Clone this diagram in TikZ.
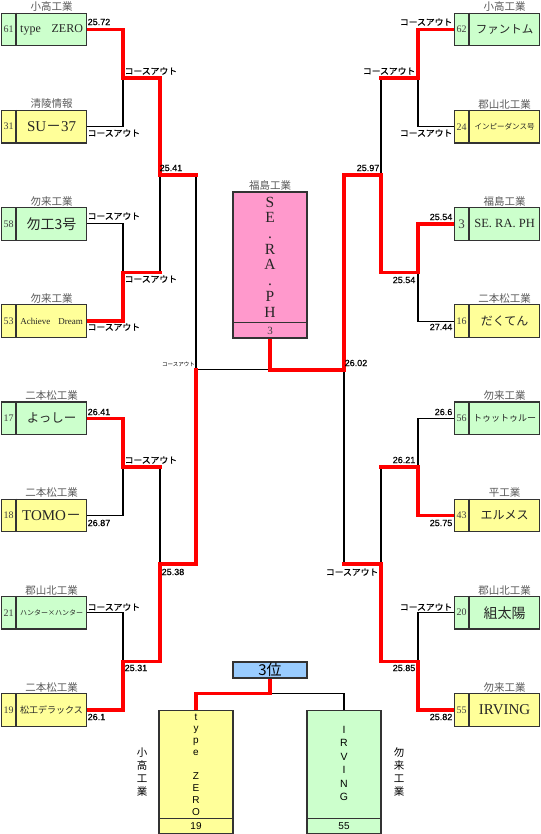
\documentclass[tikz,border=0pt]{standalone}
\usepackage{fontspec}
\setmainfont{Liberation Serif}
\newfontfamily\jp{Noto Sans CJK JP}
\newfontfamily\jpb{Noto Sans CJK JP}[FakeBold=0.8]
\newfontfamily\lsans{Liberation Sans}
\newfontfamily\lsansb{Liberation Sans}[FakeBold=0.6]
\definecolor{gbox}{HTML}{CCFFCC}
\definecolor{ybox}{HTML}{FFFF99}
\definecolor{pbox}{HTML}{FF99CC}
\definecolor{bbox}{HTML}{99CCFF}
\definecolor{redc}{HTML}{FF0000}
\definecolor{boxc}{HTML}{333333}
\pgfdeclarelayer{bg}
\pgfsetlayers{bg,main}
\tikzset{
  box/.style={draw=boxc, line width=1.2pt, minimum width=85pt, minimum height=32.5pt, inner sep=0pt},
  bigbox/.style={draw=boxc, line width=1.2pt, minimum width=74pt, inner sep=0pt},
  boxline/.style={draw=boxc, line width=1.2pt},
  conn/.style={draw=black, line width=1.1pt},
  win/.style={draw=redc, line width=3.6pt, line cap=rect},
  numtxt/.style={inner sep=0pt, text=black!75, font=\fontsize{10}{11}\selectfont},
  school/.style={inner sep=0.5pt, text=black!65, font=\fontsize{10.5}{11}\selectfont\jp},
  lab/.style={inner sep=0.5pt, font=\fontsize{9}{10}\selectfont\lsansb},
  jlab/.style={inner sep=0.5pt, font=\fontsize{8.8}{10}\selectfont\jpb},
}
\newcommand\tbox[7]{%
  \node[box, fill=#4, anchor=west] (#1) at (#2,#3) {};
  \draw[boxline] ([xshift=15pt]#1.north west) -- ([xshift=15pt]#1.south west);
  \node[numtxt] (#1n) at ([xshift=7.5pt]#1.west) {#5};
  \node[inner sep=0pt, text=black!85] (#1t) at ([xshift=7.5pt]#1.center) {#6};
  \node[school, anchor=south] (#1s) at ([xshift=7.5pt,yshift=0.3pt]#1.north) {#7};
}
\newcommand\fs[1]{\fontsize{#1}{#1}\selectfont}
\begin{document}
\begin{tikzpicture}[x=1pt,y=-1pt]
\useasboundingbox (0,0) rectangle (540,834);
% ---------- left teams ----------
\tbox{L1}{1}{29.5}{gbox}{61}{\fs{12}type\hspace{0.9em}ZERO}{小高工業}
\tbox{L2}{1}{126.7}{ybox}{31}{\fs{15}SU{\jp －}37}{清陵情報}
\tbox{L3}{1}{223.9}{gbox}{58}{\fs{14}\jp 勿工3号}{勿来工業}
\tbox{L4}{1}{321.1}{ybox}{53}{\fs{9}Achieve\hspace{0.9em}Dream}{勿来工業}
\tbox{L5}{1}{418.3}{gbox}{17}{\fs{12.5}\jp よっしー}{二本松工業}
\tbox{L6}{1}{515.5}{ybox}{18}{\fs{15}TOMO{\jp －}}{二本松工業}
\tbox{L7}{1}{612.7}{gbox}{21}{\fs{7}\jp ハンター×ハンター}{郡山北工業}
\tbox{L8}{1}{709.9}{ybox}{19}{\fs{9}\jp 松工デラックス}{二本松工業}
% ---------- right teams ----------
\tbox{R1}{454}{29.5}{gbox}{62}{\fs{11.5}\jp ファントム}{小高工業}
\tbox{R2}{454}{126.7}{ybox}{24}{\fs{7.5}\jp インピーダンス号}{郡山北工業}
\tbox{R3}{454}{223.9}{gbox}{\fs{13}3}{\fs{12.5}SE. RA. PH}{福島工業}
\tbox{R4}{454}{321.1}{ybox}{16}{\fs{12}\jp だくてん}{二本松工業}
\tbox{R5}{454}{418.3}{gbox}{56}{\fs{9}\jp トゥットゥルー}{勿来工業}
\tbox{R6}{454}{515.5}{ybox}{43}{\fs{12}\jp エルメス}{平工業}
\tbox{R7}{454}{612.7}{gbox}{20}{\fs{14}\jp 組太陽}{郡山北工業}
\tbox{R8}{454}{709.9}{ybox}{55}{\fs{15}IRVING}{勿来工業}
% ---------- champion ----------
\node[bigbox, fill=pbox, minimum height=146pt] (champ) at (270,265) {};
\draw[boxline] ([yshift=16pt]champ.south west) -- ([yshift=16pt]champ.south east);
\node[inner sep=0pt, align=center, text=black!85, font=\fontsize{15.5}{15.7}\selectfont] (champt) at ([yshift=8pt]champ.center) {S\\E\\.\\R\\A\\.\\P\\H};
\node[numtxt, font=\fontsize{11}{12}\selectfont] (champn) at ([yshift=8pt]champ.south) {3};
\node[school, anchor=south] (champs) at ([yshift=0.3pt]champ.north) {福島工業};
% ---------- third place ----------
\node[draw=boxc, line width=1.2pt, fill=bbox, minimum width=74pt, minimum height=16pt, inner sep=0pt, font=\fontsize{15}{15}\selectfont\jp] (third) at (270,670) {3位};
\node[bigbox, fill=ybox, minimum height=123pt] (tl) at (196,772) {};
\draw[boxline] ([yshift=15.5pt]tl.south west) -- ([yshift=15.5pt]tl.south east);
\node[inner sep=0pt, align=center, font=\fontsize{10}{11.9}\selectfont\lsans] (tlt) at (196,764.5) {t\\y\\p\\e\\\mbox{}\\Z\\E\\R\\O};
\node[inner sep=0pt, font=\fontsize{10}{11}\selectfont\lsans] (tln) at ([yshift=7.75pt]tl.south) {19};
\node[bigbox, fill=gbox, minimum height=123pt] (tr) at (344,772) {};
\draw[boxline] ([yshift=15.5pt]tr.south west) -- ([yshift=15.5pt]tr.south east);
\node[inner sep=0pt, align=center, font=\fontsize{10.5}{13.4}\selectfont\lsans] (trt) at (344,763.5) {I\\R\\V\\I\\N\\G};
\node[inner sep=0pt, font=\fontsize{10}{11}\selectfont\lsans] (trn) at ([yshift=7.75pt]tr.south) {55};
\node[inner sep=0pt, align=center, font=\fontsize{10.5}{13}\selectfont\jp] (tls) at (142,772.5) {小\\高\\工\\業};
\node[inner sep=0pt, align=center, font=\fontsize{10.5}{13}\selectfont\jp] (trs) at (399,772.5) {勿\\来\\工\\業};
% ---------- junctions ----------
\coordinate (a1) at (123,78.1);
\coordinate (a2) at (123,272.5);
\coordinate (a3) at (123,466.9);
\coordinate (a4) at (123,661.3);
\coordinate (b1) at (160,175.3);
\coordinate (b2) at (160,564.1);
\coordinate (c1) at (196,369.7);
\coordinate (m) at (270,369.7);
\coordinate (c2) at (344,369.7);
\coordinate (d1) at (418,78.1);
\coordinate (d2) at (418,272.5);
\coordinate (d3) at (418,466.9);
\coordinate (d4) at (418,661.3);
\coordinate (e1) at (381,175.3);
\coordinate (e2) at (381,564.1);
\coordinate (j) at (270,693.5);
\begin{pgfonlayer}{bg}
% black connectors
\draw[conn] (L2.east) -| (a1);
\draw[conn] (L3.east) -| (a2);
\draw[conn] (a2 -| b1) -- (b1);
\draw[conn] (b1 -| c1) -- (c1);
\draw[conn] (L6.east) -| (a3);
\draw[conn] (a3 -| b2) -- (b2);
\draw[conn] (L7.east) -| (a4);
\draw[conn] (c1) -- (m);
\draw[conn] (R2.west) -| (d1);
\draw[conn] (d1 -| e1) -- (e1);
\draw[conn] (R4.west) -| (d2);
\draw[conn] (R5.west) -| (d3);
\draw[conn] (d3 -| e2) -- (e2);
\draw[conn] (R7.west) -| (d4);
\draw[conn] (e2 -| c2) -- (c2);
\draw[conn] (j) -| (tr.north);
% red winner lines
\draw[win] (L1.east) -| (a1);
\draw[win] (a1) -| (b1);
\draw[win] (L4.east) -| (a2);
\draw[win] (a2) -- (a2 -| b1);
\draw[win] (b1) -- (b1 -| c1);
\draw[win] (L5.east) -| (a3);
\draw[win] (a3) -- (a3 -| b2);
\draw[win] (L8.east) -| (a4);
\draw[win] (a4) -| (b2);
\draw[win] (b2) -| (c1);
\draw[win] (champ.south) |- (c2);
\draw[win] (R1.west) -| (d1);
\draw[win] (d1) -- (d1 -| e1);
\draw[win] (R3.west) -| (d2);
\draw[win] (d2) -| (e1);
\draw[win] (e1) -| (c2);
\draw[win] (R6.west) -| (d3);
\draw[win] (d3) -- (d3 -| e2);
\draw[win] (R8.west) -| (d4);
\draw[win] (d4) -| (e2);
\draw[win] (e2) -- (e2 -| c2);
\draw[win] (third.south) -- (j) -| (tl.north);
\end{pgfonlayer}
% ---------- labels ----------
\node[lab, anchor=west] (n1) at (87,22) {25.72};
\node[jlab, anchor=west] (n2) at (124,71) {コースアウト};
\node[jlab, anchor=west] (n3) at (87,133) {コースアウト};
\node[lab, anchor=west] (n4) at (159,168) {25.41};
\node[jlab, anchor=west] (n5) at (87,216) {コースアウト};
\node[jlab, anchor=west] (n6) at (124,279) {コースアウト};
\node[jlab, anchor=west] (n7) at (87,327) {コースアウト};
\node[inner sep=0.5pt, font=\fontsize{5.5}{6}\selectfont\jp, anchor=east] (n8) at (195.5,364) {コースアウト};
\node[lab, anchor=west] (n9) at (87,412) {26.41};
\node[jlab, anchor=west] (n10) at (124,460) {コースアウト};
\node[lab, anchor=west] (n11) at (87,523) {26.87};
\node[lab, anchor=west] (n12) at (161,572) {25.38};
\node[jlab, anchor=west] (n13) at (87,607) {コースアウト};
\node[lab, anchor=west] (n14) at (124,668) {25.31};
\node[lab, anchor=west] (n15) at (87,717) {26.1};
\node[jlab, anchor=east] (r1) at (453,22) {コースアウト};
\node[jlab, anchor=east] (r2) at (416,71) {コースアウト};
\node[jlab, anchor=east] (r3) at (453,133) {コースアウト};
\node[lab, anchor=east] (r4) at (380,168) {25.97};
\node[lab, anchor=east] (r5) at (453,217) {25.54};
\node[lab, anchor=east] (r6) at (416,280) {25.54};
\node[lab, anchor=east] (r7) at (453,327) {27.44};
\node[lab, anchor=west] (r8) at (344,363) {26.02};
\node[lab, anchor=east] (r9) at (453,412) {26.6};
\node[lab, anchor=east] (r10) at (416,460) {26.21};
\node[lab, anchor=east] (r11) at (453,523) {25.75};
\node[jlab, anchor=east] (r12) at (379,572) {コースアウト};
\node[jlab, anchor=east] (r13) at (453,607) {コースアウト};
\node[lab, anchor=east] (r14) at (416,668) {25.85};
\node[lab, anchor=east] (r15) at (453,717) {25.82};
\end{tikzpicture}
\end{document}
